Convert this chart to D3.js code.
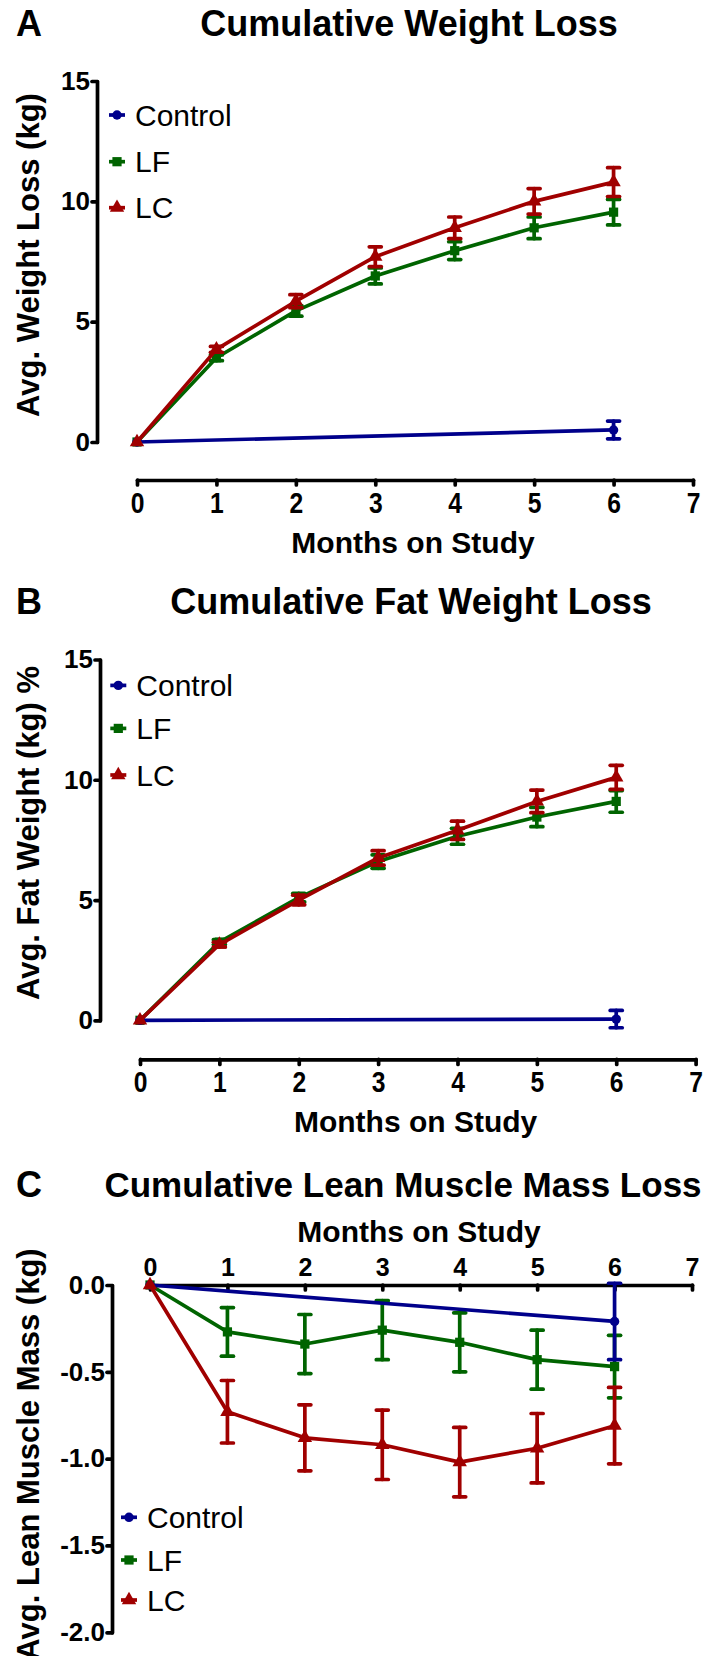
<!DOCTYPE html>
<html lang="en">
<head>
    <meta charset="UTF-8">
    <title>Cumulative Weight Loss</title>
    <script src="https://cdn.jsdelivr.net/npm/d3@7/dist/d3.min.js"></script>
    <style>
        body { margin: 0; background: #fff; }
        text { font-family: "Liberation Sans", Arial, sans-serif; }
    </style>
</head>
<body>
<svg></svg>
<script>
    // months on the x axis
    const months = [0, 1, 2, 3, 4, 5, 6];
    const controlMonths = [0, 6];
    const xTicks = [0, 1, 2, 3, 4, 5, 6, 7];
    const seriesNames = ["Control", "LF", "LC"];

    // A: cumulative weight loss (kg)
    const weightControl = [0, 0.5];
    const weightControlErr = [0, 0.37];
    const weightLF = [0, 3.5, 5.45, 6.9, 7.95, 8.9, 9.55];
    const weightLFErr = [0, 0.12, 0.22, 0.33, 0.37, 0.45, 0.53];
    const weightLC = [0, 3.85, 5.85, 7.7, 8.9, 10.0, 10.8];
    const weightLCErr = [0, 0.12, 0.27, 0.41, 0.45, 0.53, 0.6];
    const weightTicks = [0, 5, 10, 15];

    // B: cumulative fat weight loss
    const fatControl = [0, 0.05];
    const fatControlErr = [0, 0.36];
    const fatLF = [0, 3.25, 5.1, 6.6, 7.65, 8.45, 9.1];
    const fatLFErr = [0, 0.1, 0.18, 0.28, 0.33, 0.4, 0.45];
    const fatLC = [0, 3.15, 5.0, 6.75, 7.9, 9.1, 10.1];
    const fatLCErr = [0, 0.1, 0.2, 0.3, 0.38, 0.47, 0.5];
    const fatTicks = [0, 5, 10, 15];

    // C: cumulative lean muscle mass loss (kg)
    const leanControl = [0, -0.21];
    const leanControlErr = [0, 0.22];
    const leanLF = [0, -0.27, -0.34, -0.26, -0.33, -0.43, -0.47];
    const leanLFErr = [0, 0.14, 0.17, 0.17, 0.17, 0.17, 0.18];
    const leanLC = [0, -0.73, -0.88, -0.92, -1.02, -0.94, -0.81];
    const leanLCErr = [0, 0.18, 0.19, 0.2, 0.2, 0.2, 0.22];
    const leanTicks = [0, -0.5, -1.0, -1.5, -2.0];

    const colors = {Control: "#00008b", LF: "#006400", LC: "#a00000"};
    const shapes = {Control: d3.symbolCircle, LF: d3.symbolSquare, LC: d3.symbolTriangle};
    const sizes = {Control: 70, LF: 85, LC: 90};
    const lineW = 3.7;

    // plain hyphen for negatives, like the original figure
    const fmtInt = d => d3.format("d")(d).replace("\u2212", "-");
    const fmtOne = d => d3.format(".1f")(d).replace("\u2212", "-");

    let svg = d3.select("svg").attr("width", 709).attr("height", 1656);
    svg.append("rect").attr("width", 709).attr("height", 1656).attr("fill", "#fff");

    const panels = [
        {
            letter: "A", title: "Cumulative Weight Loss", titleX: 409, titleY: 36, titleSize: 36,
            yDomain: [0, 15], yRange: [442, 81], yAxisX: 97, yTicks: weightTicks, fmt: fmtInt,
            xRange: [137, 693], xAxisY: 480, top: false, xTickSize: 29, xTickSqueeze: 0.85,
            xLabelX: 413, xLabelY: 553,
            yLabel: "Avg. Weight Loss (kg)", yLabelX: 38.5, yLabelY: 255,
            legendX: 117, legendY: [115, 161.7, 207.7],
            series: [
                {name: "LF", x: months, v: weightLF, e: weightLFErr},
                {name: "Control", x: controlMonths, v: weightControl, e: weightControlErr},
                {name: "LC", x: months, v: weightLC, e: weightLCErr}
            ]
        },
        {
            letter: "B", title: "Cumulative Fat Weight Loss", titleX: 411, titleY: 613.6, titleSize: 36,
            yDomain: [0, 15], yRange: [1020.3, 659.5], yAxisX: 100, yTicks: fatTicks, fmt: fmtInt,
            xRange: [140, 695.6], xAxisY: 1059.4, top: false, xTickSize: 29, xTickSqueeze: 0.85,
            xLabelX: 415.6, xLabelY: 1132,
            yLabel: "Avg. Fat Weight (kg) %", yLabelX: 39, yLabelY: 833,
            legendX: 118.3, legendY: [685.4, 728.4, 775],
            series: [
                {name: "LF", x: months, v: fatLF, e: fatLFErr},
                {name: "Control", x: controlMonths, v: fatControl, e: fatControlErr},
                {name: "LC", x: months, v: fatLC, e: fatLCErr}
            ]
        },
        {
            letter: "C", title: "Cumulative Lean Muscle Mass Loss", titleX: 403, titleY: 1196.7, titleSize: 35,
            yDomain: [0, -2], yRange: [1285, 1632.3], yAxisX: 112, yTicks: leanTicks, fmt: fmtOne,
            xRange: [150, 692], xAxisY: 1285, top: true, xTickSize: 25, xTickSqueeze: 1,
            xLabelX: 419, xLabelY: 1242,
            yLabel: "Avg. Lean Muscle Mass (kg)", yLabelX: 39, yLabelY: 1454.5,
            legendX: 129, legendY: [1517.3, 1560, 1600],
            series: [
                {name: "LF", x: months, v: leanLF, e: leanLFErr},
                {name: "Control", x: controlMonths, v: leanControl, e: leanControlErr},
                {name: "LC", x: months, v: leanLC, e: leanLCErr}
            ]
        }
    ];

    function styleAxis(g, size) {
        g.selectAll("path, line")
            .attr("stroke", "#000")
            .attr("stroke-width", lineW)
            .attr("stroke-linecap", "round");
        g.selectAll("text")
            .attr("fill", "#000")
            .style("font-size", size + "px")
            .style("font-weight", "bold");
    }

    panels.forEach(p => {
        let x = d3.scaleLinear().domain([0, 7]).range(p.xRange);
        let y = d3.scaleLinear().domain(p.yDomain).range(p.yRange);
        let g = svg.append("g");

        // letter and title
        g.append("text").attr("x", 16).attr("y", p.titleY)
            .style("font-size", "36px").style("font-weight", "bold").text(p.letter);
        g.append("text").attr("x", p.titleX).attr("y", p.titleY).attr("text-anchor", "middle")
            .style("font-size", p.titleSize + "px").style("font-weight", "bold").text(p.title);

        // x axis
        let xAxis = p.top
            ? d3.axisTop(x).tickSizeInner(-5).tickPadding(9)
            : d3.axisBottom(x).tickSizeInner(5).tickPadding(7);
        xAxis.tickValues(xTicks).tickFormat(fmtInt).tickSizeOuter(0);
        let gx = g.append("g").attr("transform", "translate(0," + p.xAxisY + ")").call(xAxis);
        styleAxis(gx, p.xTickSize);
        gx.selectAll("text").attr("transform", "scale(" + p.xTickSqueeze + ",1)");
        if (p.top) gx.selectAll("text").attr("dy", "0em");

        // y axis
        let yAxis = d3.axisLeft(y).tickValues(p.yTicks).tickFormat(p.fmt)
            .tickSizeInner(5).tickSizeOuter(0).tickPadding(2);
        let gy = g.append("g").attr("transform", "translate(" + p.yAxisX + ",0)").call(yAxis);
        styleAxis(gy, 26);

        // axis titles
        g.append("text").attr("x", p.xLabelX).attr("y", p.xLabelY).attr("text-anchor", "middle")
            .style("font-size", "30px").style("font-weight", "bold").text("Months on Study");
        g.append("text")
            .attr("transform", "translate(" + p.yLabelX + "," + p.yLabelY + ") rotate(-90)")
            .attr("text-anchor", "middle")
            .style("font-size", "31px").style("font-weight", "bold").text(p.yLabel);

        // series
        p.series.forEach(s => {
            let pts = s.x.map((m, i) => ({m: m, v: s.v[i], e: s.e[i]}));
            let c = colors[s.name];
            let line = d3.line().x(d => x(d.m)).y(d => y(d.v));
            g.append("path").datum(pts).attr("d", line)
                .attr("fill", "none").attr("stroke", c).attr("stroke-width", lineW)
                .attr("stroke-linejoin", "round");

            let eb = g.append("g").attr("stroke", c).attr("stroke-width", lineW)
                .attr("stroke-linecap", "round");
            pts.filter(d => d.e > 0).forEach(d => {
                eb.append("line").attr("x1", x(d.m)).attr("x2", x(d.m))
                    .attr("y1", y(d.v - d.e)).attr("y2", y(d.v + d.e));
                [d.v - d.e, d.v + d.e].forEach(yy => {
                    eb.append("line").attr("x1", x(d.m) - 6).attr("x2", x(d.m) + 6)
                        .attr("y1", y(yy)).attr("y2", y(yy));
                });
            });

            g.selectAll(null).data(pts).enter().append("path")
                .attr("d", d3.symbol().type(shapes[s.name]).size(sizes[s.name]))
                .attr("transform", d => "translate(" + x(d.m) + "," + y(d.v) + ")")
                .attr("fill", c);
        });

        // legend
        seriesNames.forEach((n, i) => {
            let ly = p.legendY[i];
            g.append("line").attr("x1", p.legendX - 8).attr("x2", p.legendX + 8)
                .attr("y1", ly).attr("y2", ly)
                .attr("stroke", colors[n]).attr("stroke-width", lineW);
            g.append("path").attr("d", d3.symbol().type(shapes[n]).size(sizes[n]))
                .attr("transform", "translate(" + p.legendX + "," + ly + ")")
                .attr("fill", colors[n]);
            g.append("text").attr("x", p.legendX + 18).attr("y", ly + 10.7)
                .style("font-size", "30px").text(n);
        });
    });
</script>
</body>
</html>
